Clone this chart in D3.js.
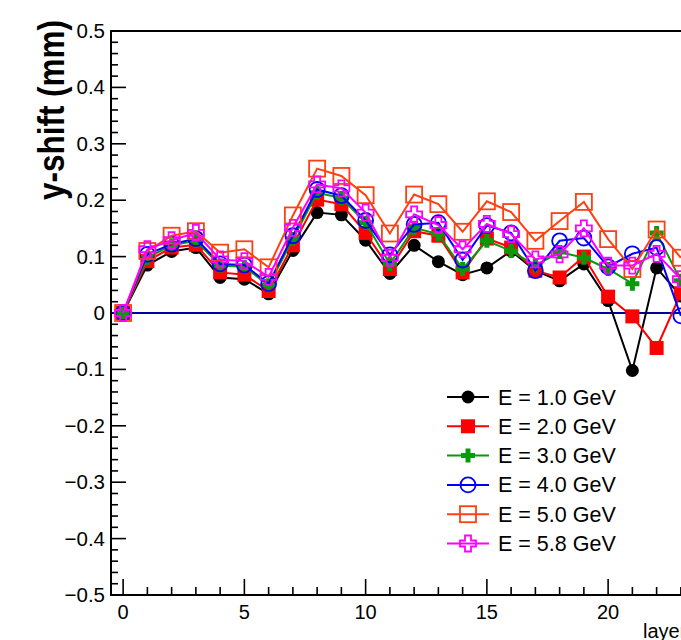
<html lang="en">
  <head>
    <meta charset="utf-8" />
    <title>y-shift per layer</title>
    <script src="https://d3js.org/d3.v7.min.js"></script>
    <style>
      body { margin: 0; overflow: hidden; background: #fff; }
      text { font-family: "Liberation Sans", Arial, Helvetica, sans-serif; }
    </style>
  </head>
  <body>
    <div id="svgContainer"></div>
  </body>
  <script>
    var width = 681,   // canvas size
        height = 640;

    // Data - y-shift (mm) for each layer
    var layers = [0,1,2,3,4,5,6,7,8,9,10,11,12,13,14,15,16,17,18,19,20,21,22,23];
    var e1  = [0, 0.085, 0.109, 0.116, 0.063, 0.060, 0.034, 0.111, 0.178, 0.174, 0.129, 0.070, 0.120, 0.091, 0.068, 0.080, 0.110, 0.075, 0.057, 0.087, 0.022, -0.102, 0.080, 0.030];
    var e2  = [0, 0.092, 0.116, 0.121, 0.072, 0.068, 0.039, 0.120, 0.201, 0.193, 0.142, 0.078, 0.145, 0.137, 0.072, 0.132, 0.116, 0.075, 0.063, 0.100, 0.029, -0.006, -0.062, 0.035];
    var e3  = [0, 0.098, 0.120, 0.128, 0.084, 0.082, 0.049, 0.131, 0.213, 0.204, 0.160, 0.087, 0.151, 0.140, 0.078, 0.128, 0.110, 0.084, 0.108, 0.098, 0.078, 0.052, 0.142, 0.057];
    var e4  = [0, 0.104, 0.122, 0.132, 0.087, 0.085, 0.052, 0.137, 0.219, 0.208, 0.164, 0.103, 0.157, 0.160, 0.094, 0.155, 0.142, 0.075, 0.128, 0.133, 0.082, 0.105, 0.116, -0.005];
    var e5  = [0, 0.110, 0.137, 0.145, 0.107, 0.113, 0.081, 0.173, 0.256, 0.243, 0.209, 0.141, 0.210, 0.193, 0.144, 0.198, 0.179, 0.128, 0.163, 0.197, 0.131, 0.078, 0.148, 0.098];
    var e58 = [0, 0.113, 0.129, 0.142, 0.095, 0.092, 0.064, 0.151, 0.228, 0.221, 0.178, 0.098, 0.175, 0.156, 0.113, 0.158, 0.140, 0.095, 0.104, 0.150, 0.084, 0.084, 0.105, 0.060];

    var names   = ["E = 1.0 GeV", "E = 2.0 GeV", "E = 3.0 GeV", "E = 4.0 GeV", "E = 5.0 GeV", "E = 5.8 GeV"];
    var yTicks  = [-0.5, -0.4, -0.3, -0.2, -0.1, 0, 0.1, 0.2, 0.3, 0.4, 0.5];
    var xTicks  = [0, 5, 10, 15, 20];

    var series = [
        {"name": names[0], "values": e1,  "color": "#000000", "marker": "dot"},
        {"name": names[1], "values": e2,  "color": "#ff0000", "marker": "square"},
        {"name": names[2], "values": e3,  "color": "#0a990a", "marker": "cross"},
        {"name": names[3], "values": e4,  "color": "#0000ff", "marker": "openCircle"},
        {"name": names[4], "values": e5,  "color": "#ff4010", "marker": "openSquare"},
        {"name": names[5], "values": e58, "color": "#ff00ff", "marker": "openCross"}
    ];

    var frame = {left: 111, top: 31, bottom: 595};

    var x = d3.scaleLinear().domain([-0.5, 23.5]).range([frame.left, frame.left + 24 * 24.25]);
    var y = d3.scaleLinear().domain([-0.5, 0.5]).range([frame.bottom, frame.top]);

    var svg = d3.select("#svgContainer")
                .append("svg")
                .attr("width", width)
                .attr("height", height);

    // ticks: y every 0.02, labels every 0.1 ; x every 1, labels every 5
    var yMinor = d3.range(-50, 51, 2).map(function(v) { return v / 100; });
    var xMinor = d3.range(0, 24);

    svg.append("g").selectAll("line")
       .data(yMinor).enter().append("line")
       .attr("x1", frame.left)
       .attr("x2", function(d) { return frame.left + (Math.round(d * 100) % 10 === 0 ? 15 : 7); })
       .attr("y1", function(d) { return y(d); })
       .attr("y2", function(d) { return y(d); })
       .attr("stroke", "#000").attr("stroke-width", 1.6);

    svg.append("g").selectAll("line")
       .data(xMinor).enter().append("line")
       .attr("x1", function(d) { return x(d); })
       .attr("x2", function(d) { return x(d); })
       .attr("y1", frame.bottom)
       .attr("y2", function(d) { return frame.bottom - (d % 5 === 0 ? 16 : 8); })
       .attr("stroke", "#000").attr("stroke-width", 1.6);

    // tick labels
    var fmt = function(d) { return d === 0 ? "0" : d3.format(".1f")(d).replace("-", "\u2212"); };
    svg.append("g").selectAll("text")
       .data(yTicks).enter().append("text")
       .attr("x", frame.left - 6)
       .attr("y", function(d) { return y(d) + 7; })
       .attr("text-anchor", "end")
       .attr("font-size", 20.5)
       .text(fmt);

    svg.append("g").selectAll("text")
       .data(xTicks).enter().append("text")
       .attr("x", function(d) { return x(d); })
       .attr("y", frame.bottom + 24)
       .attr("text-anchor", "middle")
       .attr("font-size", 20)
       .text(function(d) { return d; });

    // zero line
    svg.append("line")
       .attr("x1", frame.left).attr("x2", x(23.5))
       .attr("y1", y(0)).attr("y2", y(0))
       .attr("stroke", "#00009a").attr("stroke-width", 2);

    // frame (right side is off the canvas)
    svg.append("path")
       .attr("d", "M" + x(23.5) + "," + frame.top + "H" + frame.left + "V" + frame.bottom + "H" + x(23.5))
       .attr("fill", "none").attr("stroke", "#000").attr("stroke-width", 2);

    // axis titles
    svg.append("text")
       .attr("transform", "translate(64,200) rotate(-90)")
       .attr("font-size", 36)
       .attr("font-weight", "bold")
       .attr("textLength", 180)
       .attr("lengthAdjust", "spacingAndGlyphs")
       .text("y-shift (mm)");

    svg.append("text")
       .attr("x", 643)
       .attr("y", 638)
       .attr("font-size", 20)
       .text("layer");

    // marker drawing
    function drawMarker(sel, m, color) {
        if (m === "dot") {
            sel.append("circle").attr("r", 6.5).attr("fill", color);
        } else if (m === "square") {
            sel.append("rect").attr("x", -7).attr("y", -7).attr("width", 14).attr("height", 14).attr("fill", color);
        } else if (m === "cross") {
            sel.append("path").attr("d", "M-2.5,-7H2.5V-2.5H7V2.5H2.5V7H-2.5V2.5H-7V-2.5H-2.5Z").attr("fill", color);
        } else if (m === "openCircle") {
            sel.append("circle").attr("r", 7.5).attr("fill", "none").attr("stroke", color).attr("stroke-width", 1.8);
        } else if (m === "openSquare") {
            sel.append("rect").attr("x", -8).attr("y", -8).attr("width", 16).attr("height", 16)
               .attr("fill", "none").attr("stroke", color).attr("stroke-width", 1.8);
        } else {
            sel.append("path").attr("d", "M-3,-8H3V-3H8V3H3V8H-3V3H-8V-3H-3Z")
               .attr("fill", "none").attr("stroke", color).attr("stroke-width", 1.8);
        }
    }

    var line = d3.line()
                 .x(function(d, i) { return x(layers[i]); })
                 .y(function(d) { return y(d); });

    var seriesGroups = svg.selectAll("g.series")
                          .data(series)
                          .enter().append("g")
                          .attr("class", "series");

    seriesGroups.append("path")
                .attr("d", function(d) { return line(d.values); })
                .attr("fill", "none")
                .attr("stroke", function(d) { return d.color; })
                .attr("stroke-width", 2);

    seriesGroups.each(function(s) {
        d3.select(this).selectAll("g.pt")
          .data(s.values).enter().append("g")
          .attr("class", "pt")
          .attr("transform", function(d, i) { return "translate(" + x(layers[i]) + "," + y(d) + ")"; })
          .each(function() { drawMarker(d3.select(this), s.marker, s.color); });
    });

    // legend
    var legend = svg.selectAll("g.legend")
                    .data(series)
                    .enter().append("g")
                    .attr("class", "legend")
                    .attr("transform", function(d, i) { return "translate(447," + (397 + i * 29.3) + ")"; });

    legend.append("line")
          .attr("x1", 0).attr("x2", 42)
          .attr("stroke", function(d) { return d.color; })
          .attr("stroke-width", 2);

    legend.each(function(s) {
        var g = d3.select(this).append("g").attr("transform", "translate(21,0)");
        drawMarker(g, s.marker, s.color);
    });

    legend.append("text")
          .attr("x", 51)
          .attr("y", 7.5)
          .attr("font-size", 21.5)
          .text(function(d) { return d.name; });
  </script>
</html>
